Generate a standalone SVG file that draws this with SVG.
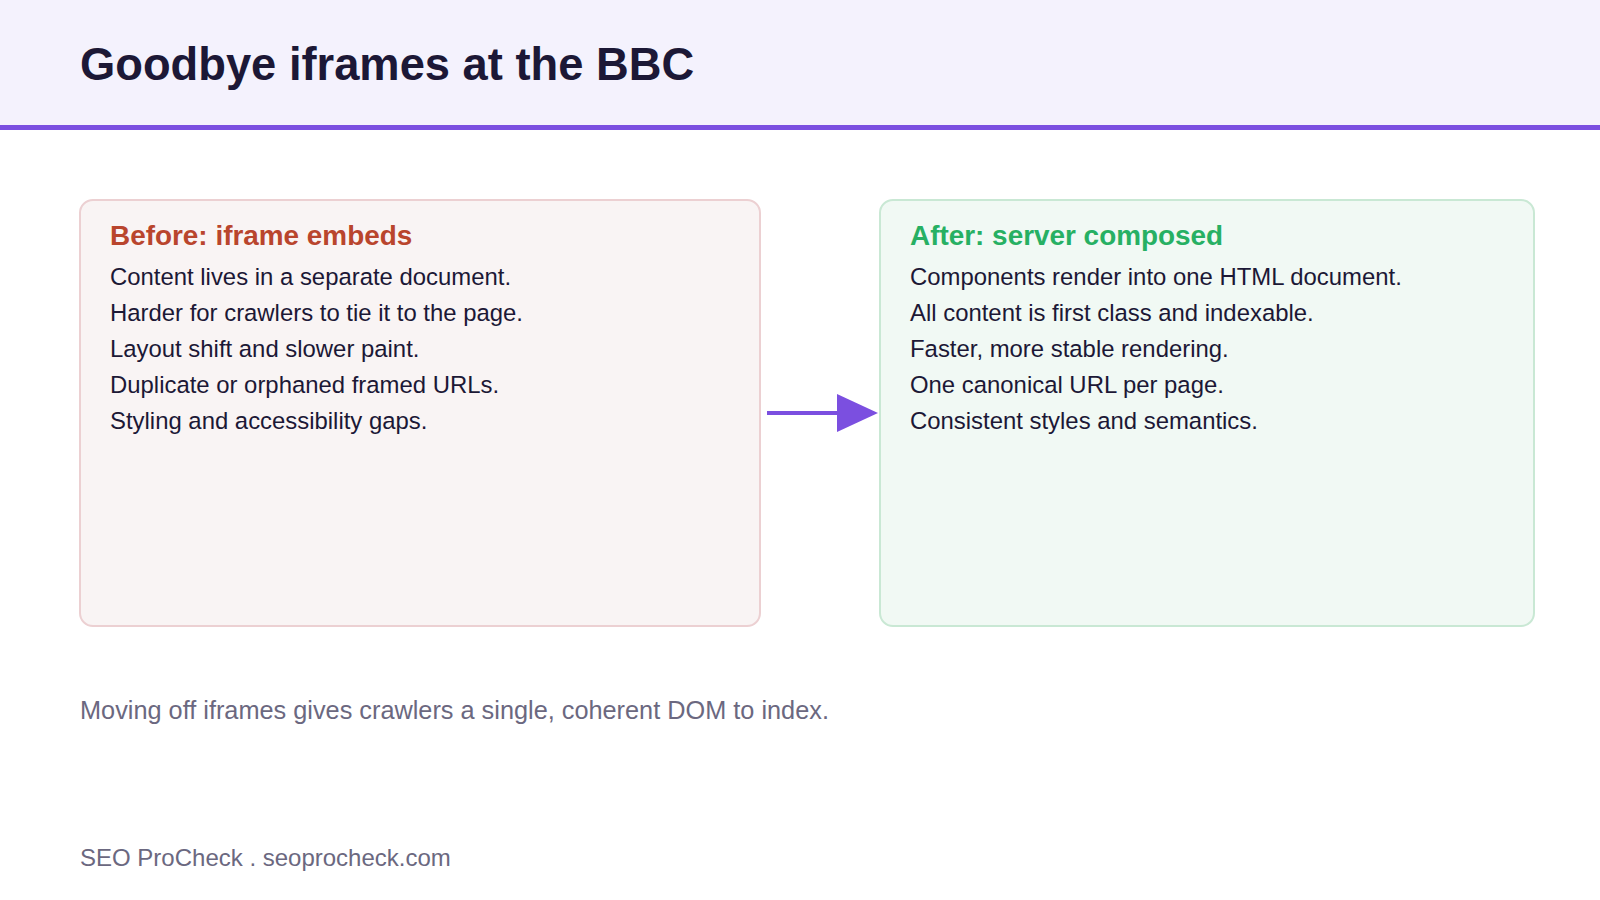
<svg xmlns="http://www.w3.org/2000/svg" width="1600" height="900" viewBox="0 0 1600 900">
<style>
text{font-family:"Liberation Sans",Arial,sans-serif}
.body{font-size:23.9px;fill:#1c1836}
.h{font-size:27.9px;font-weight:bold}
.muted{fill:#6b6880}
</style>
<rect width="1600" height="900" fill="#ffffff"/>
<rect width="1600" height="127" fill="#f4f2fd"/>
<rect y="125" width="1600" height="5" fill="#7b4fe0"/>
<text x="80" y="80" font-size="45.3" font-weight="bold" fill="#1c1836">Goodbye iframes at the BBC</text>
<g id="before">
<rect x="80" y="200" width="680" height="426" rx="13" fill="#f9f4f4" stroke="#ecd0d2" stroke-width="2"/>
<text class="h" x="110" y="245" fill="#b9452d">Before: iframe embeds</text>
<text class="body" x="110" y="285">Content lives in a separate document.</text>
<text class="body" x="110" y="321">Harder for crawlers to tie it to the page.</text>
<text class="body" x="110" y="357">Layout shift and slower paint.</text>
<text class="body" x="110" y="393">Duplicate or orphaned framed URLs.</text>
<text class="body" x="110" y="429">Styling and accessibility gaps.</text>
</g>
<g id="after">
<rect x="880" y="200" width="654" height="426" rx="13" fill="#f1f9f4" stroke="#c9e8d4" stroke-width="2"/>
<text class="h" x="910" y="245" fill="#27b063">After: server composed</text>
<text class="body" x="910" y="285">Components render into one HTML document.</text>
<text class="body" x="910" y="321">All content is first class and indexable.</text>
<text class="body" x="910" y="357">Faster, more stable rendering.</text>
<text class="body" x="910" y="393">One canonical URL per page.</text>
<text class="body" x="910" y="429">Consistent styles and semantics.</text>
</g>
<g id="connectors">
<line x1="767" y1="413" x2="840" y2="413" stroke="#7b4fe0" stroke-width="4"/>
<path d="M837,394 L878,413 L837,432 Z" fill="#7b4fe0"/>
</g>
<text class="muted" x="80" y="719" font-size="25.3">Moving off iframes gives crawlers a single, coherent DOM to index.</text>
<text class="muted" x="80" y="866" font-size="24">SEO ProCheck . seoprocheck.com</text>
</svg>
